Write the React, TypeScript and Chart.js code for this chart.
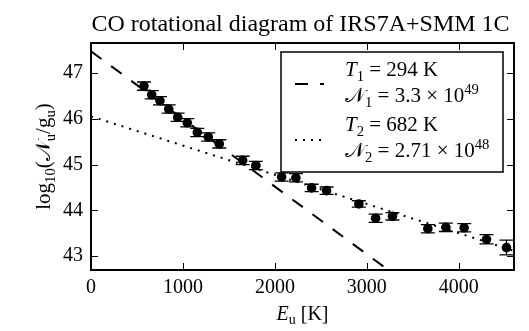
import React, { useEffect, useRef } from 'react';
import { Chart, registerables } from 'chart.js';
Chart.register(...registerables);

const TITLE = 'CO rotational diagram of IRS7A+SMM 1C';
const E_U = [576, 660, 750, 845, 942, 1047, 1156, 1275, 1395, 1649, 1793, 2073, 2228, 2399, 2562, 2913, 3095, 3278, 3663, 3859, 4058, 4301, 4518];
const LOG_NG = [46.71, 46.52, 46.39, 46.21, 46.03, 45.91, 45.70, 45.60, 45.45, 45.09, 44.98, 44.73, 44.71, 44.49, 44.43, 44.14, 43.83, 43.87, 43.60, 43.63, 43.62, 43.37, 43.19];
const ERR = [0.09, 0.09, 0.09, 0.09, 0.09, 0.09, 0.09, 0.09, 0.09, 0.09, 0.09, 0.09, 0.09, 0.08, 0.08, 0.07, 0.09, 0.08, 0.09, 0.09, 0.09, 0.1, 0.16];
const FIT1_E = [0, 3300];
const FIT1_Y = [47.47, 42.6];
const FIT2_E = [0, 4600];
const FIT2_Y = [46.05, 43.12];
const X_TICKS = [0, 1000, 2000, 3000, 4000];
const Y_TICKS = [43, 44, 45, 46, 47];
const X_RANGE = [0, 4600];
const Y_RANGE = [42.7, 47.65];

const SERIF = '"Liberation Serif", "DejaVu Serif", serif';

type Part = { t: string; it?: boolean; sub?: boolean; sup?: boolean };

function drawRich(ctx: CanvasRenderingContext2D, parts: Part[], x: number, y: number, size: number, align: 'left' | 'center' = 'left') {
  const fontFor = (p: Part) => {
    const s = p.sub || p.sup ? size * 0.7 : size;
    return `${p.it ? 'italic ' : ''}${s}px ${SERIF}`;
  };
  let total = 0;
  for (const p of parts) {
    ctx.font = fontFor(p);
    total += ctx.measureText(p.t).width;
  }
  let cx = align === 'center' ? x - total / 2 : x;
  ctx.textBaseline = 'alphabetic';
  ctx.textAlign = 'left';
  for (const p of parts) {
    ctx.font = fontFor(p);
    const dy = p.sub ? size * 0.22 : p.sup ? -size * 0.4 : 0;
    ctx.fillText(p.t, cx, y + dy);
    cx += ctx.measureText(p.t).width;
  }
}

const decorPlugin = {
  id: 'decor',
  afterDatasetsDraw(chart: any) {
    const ctx = chart.ctx as CanvasRenderingContext2D;
    const xs = chart.scales.x;
    const ys = chart.scales.y;
    const a = chart.chartArea;
    ctx.save();
    // error bars
    ctx.strokeStyle = '#000';
    ctx.lineWidth = 1.3;
    for (let i = 0; i < E_U.length; i++) {
      const px = xs.getPixelForValue(E_U[i]);
      const y1 = ys.getPixelForValue(LOG_NG[i] - ERR[i]);
      const y2 = ys.getPixelForValue(LOG_NG[i] + ERR[i]);
      ctx.beginPath();
      ctx.moveTo(px, y1); ctx.lineTo(px, y2);
      ctx.moveTo(px - 7, y1); ctx.lineTo(px + 7, y1);
      ctx.moveTo(px - 7, y2); ctx.lineTo(px + 7, y2);
      ctx.stroke();
    }
    // ticks
    ctx.lineWidth = 1;
    for (const v of X_TICKS) {
      const px = Math.round(xs.getPixelForValue(v)) + 0.5;
      ctx.beginPath();
      ctx.moveTo(px, a.bottom); ctx.lineTo(px, a.bottom - 7);
      ctx.moveTo(px, a.top); ctx.lineTo(px, a.top + 7);
      ctx.stroke();
    }
    for (const v of Y_TICKS) {
      const py = Math.round(ys.getPixelForValue(v)) + 0.5;
      ctx.beginPath();
      ctx.moveTo(a.left, py); ctx.lineTo(a.left + 7, py);
      ctx.moveTo(a.right, py); ctx.lineTo(a.right - 7, py);
      ctx.stroke();
    }
    // frame
    ctx.lineWidth = 2;
    ctx.strokeRect(a.left, a.top, a.right - a.left, a.bottom - a.top);

    // legend
    const lx = 281, ly = 52, lw = 222, lh = 120;
    ctx.fillStyle = '#fff';
    ctx.fillRect(lx, ly, lw, lh);
    ctx.lineWidth = 1.5;
    ctx.strokeRect(lx, ly, lw, lh);
    ctx.strokeStyle = '#000';
    ctx.lineWidth = 2;
    ctx.setLineDash([13, 12]);
    ctx.beginPath(); ctx.moveTo(295, 84); ctx.lineTo(324, 84); ctx.stroke();
    ctx.setLineDash([2, 6]);
    ctx.beginPath(); ctx.moveTo(295, 140); ctx.lineTo(324, 140); ctx.stroke();
    ctx.setLineDash([]);
    ctx.fillStyle = '#000';
    const fs = 21;
    drawRich(ctx, [{ t: 'T', it: true }, { t: '1', sub: true }, { t: ' = 294 K' }], 345, 76, fs);
    drawRich(ctx, [{ t: '𝒩' }, { t: '1', sub: true }, { t: ' = 3.3 × 10' }, { t: '49', sup: true }], 345, 102, fs);
    drawRich(ctx, [{ t: 'T', it: true }, { t: '2', sub: true }, { t: ' = 682 K' }], 345, 131, fs);
    drawRich(ctx, [{ t: '𝒩' }, { t: '2', sub: true }, { t: ' = 2.71 × 10' }, { t: '48', sup: true }], 345, 157, fs);

    // title
    ctx.font = `24px ${SERIF}`;
    ctx.textAlign = 'center';
    ctx.textBaseline = 'alphabetic';
    ctx.fillText(TITLE, (a.left + a.right) / 2 - 2, 31);

    // x label
    drawRich(ctx, [{ t: 'E', it: true }, { t: 'u', sub: true }, { t: ' [K]' }], (a.left + a.right) / 2, 320, 20, 'center');

    // y label
    ctx.save();
    ctx.translate(50, (a.top + a.bottom) / 2);
    ctx.rotate(-Math.PI / 2);
    drawRich(ctx, [{ t: 'log' }, { t: '10', sub: true }, { t: '(' }, { t: '𝒩' }, { t: 'u', sub: true }, { t: '/' }, { t: 'g' }, { t: 'u', sub: true }, { t: ')' }], 0, 0, 21, 'center');
    ctx.restore();

    ctx.restore();
  },
};

export default function App() {
  const ref = useRef<HTMLCanvasElement | null>(null);
  useEffect(() => {
    if (!ref.current) return;
    const chart = new Chart(ref.current, {
      type: 'scatter',
      data: {
        datasets: [
          {
            type: 'line',
            data: FIT1_E.map((e, i) => ({ x: e, y: FIT1_Y[i] })),
            borderColor: '#000',
            borderWidth: 2,
            borderDash: [13, 12],
            pointRadius: 0,
            fill: false,
          } as any,
          {
            type: 'line',
            data: FIT2_E.map((e, i) => ({ x: e, y: FIT2_Y[i] })),
            borderColor: '#000',
            borderWidth: 2,
            borderDash: [2, 6],
            pointRadius: 0,
            fill: false,
          } as any,
          {
            type: 'scatter',
            data: E_U.map((e, i) => ({ x: e, y: LOG_NG[i] })),
            backgroundColor: '#000',
            borderColor: '#000',
            pointRadius: 4.8,
            pointBorderWidth: 0,
          },
        ],
      },
      options: {
        responsive: false,
        animation: false,
        layout: { padding: { left: 0, right: 15, top: 43, bottom: 0 } },
        plugins: { legend: { display: false }, tooltip: { enabled: false }, title: { display: false } },
        scales: {
          x: {
            type: 'linear',
            min: X_RANGE[0],
            max: X_RANGE[1],
            afterBuildTicks: (s: any) => { s.ticks = X_TICKS.map((v) => ({ value: v })); },
            afterFit: (s: any) => { s.height = 61; },
            grid: { display: false, drawTicks: false },
            border: { display: false },
            ticks: { color: '#000', font: { family: SERIF, size: 20 }, padding: 6, maxRotation: 0, autoSkip: false, callback: (v: any) => String(v) },
          },
          y: {
            type: 'linear',
            min: Y_RANGE[0],
            max: Y_RANGE[1],
            afterBuildTicks: (s: any) => { s.ticks = Y_TICKS.map((v) => ({ value: v })); },
            afterFit: (s: any) => { s.width = 91; },
            grid: { display: false, drawTicks: false },
            border: { display: false },
            ticks: { color: '#000', font: { family: SERIF, size: 20 }, padding: 8, callback: (v: any) => String(v) },
          },
        },
      },
      plugins: [decorPlugin],
    });
    return () => chart.destroy();
  }, []);
  return (
    <div style={{ position: 'fixed', left: 0, top: 0, width: 529, height: 331, background: '#fff' }}>
      <canvas ref={ref} width={529} height={331} style={{ display: 'block' }} />
    </div>
  );
}
